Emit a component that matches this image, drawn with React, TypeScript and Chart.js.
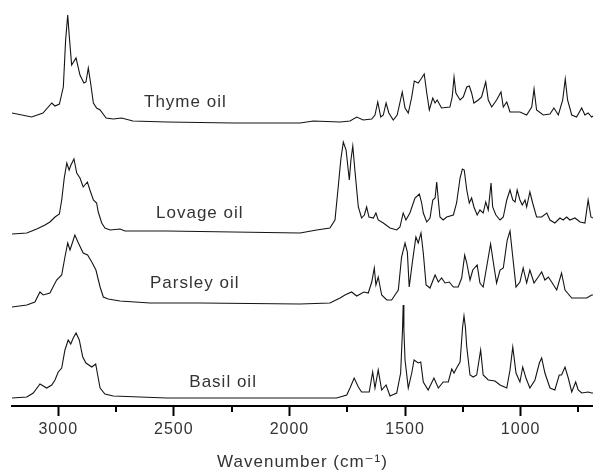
import React, { useEffect, useRef } from "react";
import { Chart, registerables } from "chart.js";

Chart.register(...registerables);

// ---- Data (wavenumber in cm^-1, plotted offset intensity) ----
const thymeWavenumbers = [
  3200, 3115, 3066, 3028, 3014, 2995, 2978, 2968, 2959, 2952,
  2942, 2923, 2906, 2889, 2880, 2870, 2860, 2848, 2834, 2819,
  2793, 2762, 2726, 2677, 2531, 2244, 1954, 1897, 1781, 1738,
  1709, 1681, 1644, 1630, 1618, 1605, 1594, 1582, 1570, 1551,
  1534, 1512, 1500, 1486, 1471, 1460, 1443, 1431, 1417, 1406,
  1395, 1380, 1370, 1361, 1342, 1306, 1296, 1288, 1280, 1262,
  1248, 1233, 1222, 1212, 1202, 1183, 1169, 1151, 1140, 1125,
  1104, 1085, 1075, 1060, 1046, 1003, 974, 952, 942, 931,
  902, 873, 856, 837, 818, 807, 797, 779, 758, 736,
  722, 708, 693, 687,
];
const thymeValues = [
  293, 289, 293, 303, 300, 302, 319, 366, 391, 369,
  341, 348, 331, 323, 324, 338, 323, 303, 298, 296,
  288, 287, 288, 285, 284, 283, 283, 285, 284, 285,
  289, 286, 287, 291, 304, 289, 291, 303, 293, 286,
  291, 314, 298, 293, 309, 325, 323, 327, 332, 313,
  296, 308, 303, 306, 298, 299, 309, 329, 313, 306,
  309, 319, 320, 313, 303, 306, 309, 324, 306, 299,
  306, 314, 299, 304, 294, 294, 291, 299, 317, 296,
  291, 292, 298, 291, 306, 327, 306, 291, 289, 298,
  291, 293, 289, 290,
];

const lovageWavenumbers = [
  3200, 3136, 3093, 3057, 3036, 3014, 2995, 2985, 2974, 2963,
  2953, 2945, 2932, 2920, 2906, 2892, 2874, 2863, 2848, 2834,
  2827, 2812, 2798, 2776, 2733, 2711, 2531, 1954, 1882, 1825,
  1803, 1789, 1778, 1767, 1755, 1741, 1734, 1726, 1717, 1702,
  1688, 1676, 1666, 1656, 1637, 1626, 1616, 1594, 1565, 1536,
  1522, 1508, 1496, 1479, 1457, 1438, 1428, 1421, 1406, 1392,
  1380, 1370, 1363, 1356, 1349, 1335, 1320, 1291, 1277, 1262,
  1252, 1244, 1233, 1222, 1212, 1202, 1188, 1176, 1162, 1151,
  1140, 1128, 1121, 1107, 1089, 1075, 1060, 1046, 1034, 1024,
  1015, 1003, 993, 981, 974, 960, 948, 931, 909, 887,
  873, 852, 830, 816, 801, 787, 765, 743, 722, 708,
  696, 687,
];
const lovageValues = [
  172, 173, 177, 181, 184, 189, 192, 206, 228, 243,
  236, 241, 247, 233, 228, 219, 224, 216, 206, 203,
  194, 183, 178, 176, 177, 175, 175, 173, 176, 178,
  186, 219, 246, 264, 256, 226, 246, 260, 236, 199,
  188, 191, 199, 189, 188, 193, 186, 183, 178, 176,
  179, 193, 186, 193, 208, 212, 203, 193, 184, 188,
  206, 208, 224, 206, 189, 186, 189, 191, 203, 228,
  237, 236, 216, 203, 208, 199, 191, 196, 193, 204,
  196, 223, 199, 191, 186, 189, 206, 216, 206, 204,
  216, 206, 201, 206, 199, 214, 203, 189, 189, 193,
  186, 183, 188, 186, 189, 186, 188, 184, 183, 206,
  189, 188,
];

const parsleyWavenumbers = [
  3200, 3136, 3101, 3079, 3065, 3036, 3007, 2985, 2971, 2959,
  2949, 2928, 2913, 2892, 2873, 2855, 2837, 2819, 2805, 2784,
  2733, 2603, 2387, 1954, 1825, 1781, 1760, 1731, 1709, 1678,
  1659, 1644, 1633, 1626, 1616, 1601, 1579, 1558, 1529, 1515,
  1500, 1490, 1482, 1467, 1453, 1443, 1431, 1421, 1409, 1392,
  1370, 1356, 1342, 1327, 1309, 1291, 1270, 1255, 1242, 1233,
  1219, 1207, 1188, 1176, 1162, 1144, 1130, 1115, 1104, 1089,
  1075, 1058, 1046, 1034, 1020, 1003, 989, 974, 960, 942,
  924, 909, 895, 880, 866, 844, 823, 808, 779, 743,
  714, 693, 687,
];
const parsleyValues = [
  99, 101, 104, 114, 111, 113, 126, 131, 149, 163,
  156, 171, 163, 153, 151, 144, 136, 119, 109, 107,
  105, 103, 103, 102, 103, 108, 111, 114, 110, 114,
  113, 124, 138, 121, 129, 111, 106, 106, 116, 149,
  163, 154, 119, 146, 169, 163, 173, 153, 121, 118,
  131, 124, 128, 123, 124, 119, 119, 128, 151, 143,
  126, 136, 141, 123, 119, 143, 162, 139, 123, 136,
  138, 166, 175, 149, 119, 124, 138, 123, 136, 123,
  129, 134, 126, 129, 124, 116, 133, 116, 108, 108,
  108, 111, 111,
];

const basilWavenumbers = [
  3200, 3136, 3108, 3079, 3050, 3028, 3014, 3000, 2985, 2971,
  2957, 2946, 2935, 2923, 2909, 2894, 2880, 2855, 2838, 2831,
  2819, 2798, 2762, 2531, 1954, 1796, 1752, 1738, 1720, 1702,
  1688, 1655, 1640, 1630, 1616, 1601, 1582, 1565, 1536, 1519,
  1511, 1508, 1505, 1500, 1486, 1471, 1461, 1443, 1432, 1421,
  1400, 1375, 1356, 1335, 1313, 1298, 1288, 1277, 1262, 1251,
  1245, 1239, 1233, 1219, 1205, 1190, 1173, 1162, 1140, 1111,
  1089, 1060, 1046, 1034, 1020, 1003, 991, 977, 960, 938,
  919, 909, 895, 873, 852, 833, 823, 808, 794, 779,
  762, 751, 736, 708, 693, 687,
];
const basilValues = [
  8, 9, 13, 22, 18, 21, 26, 34, 38, 56,
  66, 62, 68, 73, 66, 49, 43, 39, 42, 33,
  18, 12, 10, 8, 8, 8, 11, 18, 28, 19,
  14, 14, 34, 18, 36, 16, 21, 10, 13, 33,
  76, 101, 76, 46, 18, 33, 46, 43, 44, 24,
  16, 28, 18, 24, 24, 37, 33, 38, 44, 79,
  90, 79, 59, 31, 29, 31, 56, 31, 26, 25,
  21, 18, 36, 59, 33, 24, 39, 28, 18, 26,
  43, 48, 33, 18, 16, 31, 31, 39, 28, 14,
  24, 16, 13, 14, 13, 13,
];

const seriesNames = ["Thyme oil", "Lovage oil", "Parsley oil", "Basil oil"];
const majorTicks = [3000, 2500, 2000, 1500, 1000];
const minorTicks = [2750, 2250, 1750, 1250, 750];
const axisTitle = "Wavenumber (cm\u207B\u00B9)";

export default function App() {
  const canvasRef = useRef<HTMLCanvasElement | null>(null);

  useEffect(() => {
    const canvas = canvasRef.current;
    if (!canvas) return;

    const allSeries = [
      [thymeWavenumbers, thymeValues],
      [lovageWavenumbers, lovageValues],
      [parsleyWavenumbers, parsleyValues],
      [basilWavenumbers, basilValues],
    ];
    // label anchor (left, baseline) in data coordinates
    const labelAnchors = [
      [2629, 299],
      [2577, 188],
      [2603, 118],
      [2433, 19],
    ];

    const FONT = '"Liberation Sans", Arial, "DejaVu Sans", sans-serif';

    const decor = {
      id: "decor",
      beforeDraw(chart: any) {
        chart.ctx.letterSpacing = "1px";
      },
      afterDraw(chart: any) {
        const ctx = chart.ctx;
        const xs = chart.scales.x;
        const ys = chart.scales.y;
        ctx.save();
        ctx.strokeStyle = "#000";
        ctx.lineWidth = 2;
        minorTicks.forEach((v) => {
          const px = Math.round(xs.getPixelForValue(v));
          ctx.beginPath();
          ctx.moveTo(px, ys.bottom);
          ctx.lineTo(px, ys.bottom + 6);
          ctx.stroke();
        });
        ctx.font = "17px " + FONT;
        ctx.fillStyle = "#333";
        ctx.textAlign = "left";
        ctx.textBaseline = "alphabetic";
        ctx.letterSpacing = "1px";
        seriesNames.forEach((name, i) => {
          const a = labelAnchors[i];
          ctx.fillText(name, xs.getPixelForValue(a[0]), ys.getPixelForValue(a[1]));
        });
        ctx.restore();
      },
    };

    const chart = new Chart(canvas, {
      type: "line",
      data: {
        datasets: allSeries.map(([wn, val], i) => ({
          label: seriesNames[i],
          data: wn.slice(0, Math.min(wn.length, val.length)).map((x, j) => ({ x, y: val[j] })),
          borderColor: "#141414",
          borderWidth: 1.1,
          pointRadius: 0,
          fill: false,
          tension: 0,
        })),
      },
      options: {
        animation: false,
        responsive: false,
        maintainAspectRatio: false,
        devicePixelRatio: 1,
        layout: { padding: { left: 12, right: 0, top: 0, bottom: 0 } },
        plugins: {
          legend: { display: false },
          tooltip: { enabled: false },
        },
        scales: {
          x: {
            type: "linear",
            reverse: true,
            min: 687,
            max: 3200,
            afterBuildTicks: (scale: any) => {
              scale.ticks = majorTicks.map((v) => ({ value: v }));
            },
            afterFit: (scale: any) => {
              scale.height = 70;
            },
            ticks: {
              autoSkip: false,
              maxRotation: 0,
              padding: 4,
              color: "#333",
              font: { family: FONT, size: 16 },
              callback: (v: any) => String(v),
            },
            grid: {
              display: true,
              drawOnChartArea: false,
              drawTicks: true,
              tickLength: 10,
              tickWidth: 2,
              tickColor: "#000",
            },
            border: { display: true, color: "#000", width: 2 },
            title: {
              display: true,
              text: axisTitle,
              color: "#333",
              font: { family: FONT, size: 17 },
              padding: { top: 0, bottom: 3 },
            },
          },
          y: {
            type: "linear",
            display: false,
            min: 0,
            max: 406,
          },
        },
      },
      plugins: [decor],
    } as any);

    return () => chart.destroy();
  }, []);

  return (
    <div style={{ position: "fixed", left: 0, top: 0, width: 593, height: 476, background: "#fff" }}>
      <canvas ref={canvasRef} width={593} height={476} style={{ display: "block" }} />
    </div>
  );
}
